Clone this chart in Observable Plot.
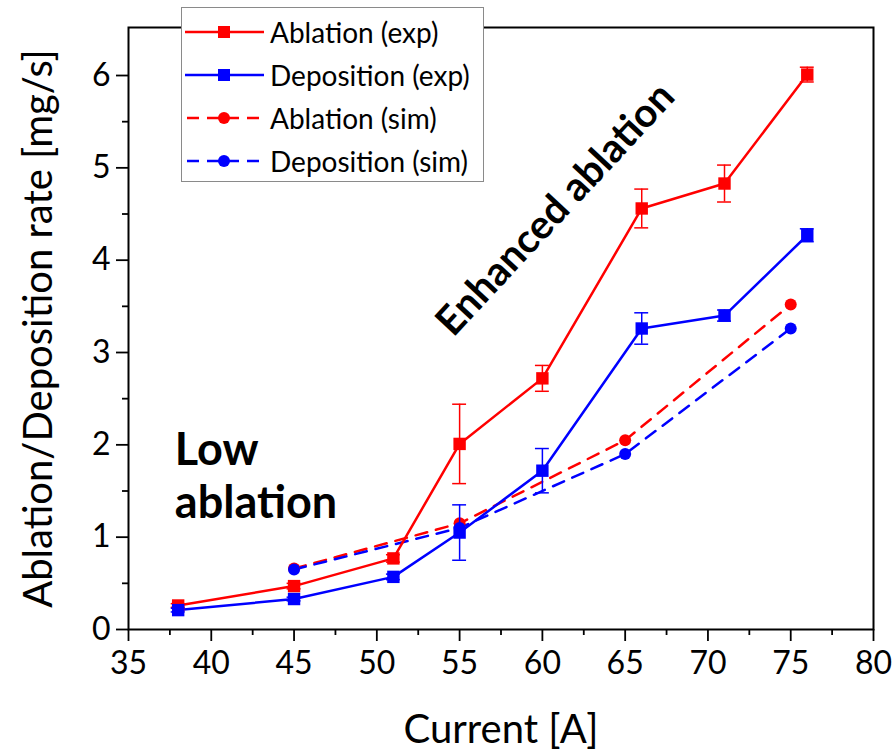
<!DOCTYPE html>
<html>
<head>
<meta charset="utf-8">
<script src="https://cdn.jsdelivr.net/npm/d3@7"></script>
<script src="https://cdn.jsdelivr.net/npm/@observablehq/plot@0.6"></script>
<style>
  body { margin: 0; background: #fff; }
  #wrap { position: relative; width: 894px; height: 755px; font-family: Lato, "Open Sans", sans-serif; }
  #legend { position: absolute; left: 181px; top: 7px; width: 301px; height: 173px; border: 1.5px solid #8a8a8a; background: #fff; }
  .row { position: absolute; left: 0; height: 40px; display: flex; align-items: center; white-space: nowrap; }
  .row span { font-size: 28px; color: #000; margin-left: 4px; }
</style>
</head>
<body>
<div id="wrap"><div id="legend"></div></div>
<script>
const RED = "#ff0000", BLUE = "#0000ff";

const expCurrent = [38, 45, 51, 55, 60, 66, 71, 76];
const ablationExp = [0.26, 0.47, 0.77, 2.01, 2.72, 4.56, 4.83, 6.01];
const ablationExpErr = [0.02, 0.03, 0.04, 0.43, 0.14, 0.21, 0.20, 0.08];
const depositionExp = [0.21, 0.33, 0.57, 1.05, 1.72, 3.26, 3.40, 4.27];
const depositionExpErr = [0.02, 0.02, 0.03, 0.30, 0.24, 0.17, 0.06, 0.07];

const simCurrent = [45, 55, 65, 75];
const ablationSim = [0.66, 1.15, 2.05, 3.52];
const depositionSim = [0.65, 1.10, 1.90, 3.26];

const xTicks = [35, 40, 45, 50, 55, 60, 65, 70, 75, 80];
const xMinor = [37.5, 42.5, 47.5, 52.5, 57.5, 62.5, 67.5, 72.5, 77.5];
const yTicks = [0, 1, 2, 3, 4, 5, 6];
const yMinor = [0.5, 1.5, 2.5, 3.5, 4.5, 5.5];

const legendItems = [
  {label: "Ablation (exp)", color: RED, dash: false, symbol: "square"},
  {label: "Deposition (exp)", color: BLUE, dash: false, symbol: "square"},
  {label: "Ablation (sim)", color: RED, dash: true, symbol: "circle"},
  {label: "Deposition (sim)", color: BLUE, dash: true, symbol: "circle"}
];

const lowLabels = [
  {x: 37.8, y: 1.94, text: "Low"},
  {x: 37.8, y: 1.36, text: "ablation"}
];
const enhancedLabel = [{x: 60.8, y: 4.55, text: "Enhanced ablation"}];

const mk = (xs, ys, es) => xs.map((x, i) => ({x, y: ys[i], e: es ? es[i] : 0}));
const aExp = mk(expCurrent, ablationExp, ablationExpErr);
const dExp = mk(expCurrent, depositionExp, depositionExpErr);
const aSim = mk(simCurrent, ablationSim);
const dSim = mk(simCurrent, depositionSim);
const CAP = 0.42;

function errMarks(data, color) {
  return [
    Plot.ruleX(data, {x: "x", y1: d => d.y - d.e, y2: d => d.y + d.e, stroke: color, strokeWidth: 1.5}),
    Plot.ruleY(data, {y: d => d.y + d.e, x1: d => d.x - CAP, x2: d => d.x + CAP, stroke: color, strokeWidth: 1.5}),
    Plot.ruleY(data, {y: d => d.y - d.e, x1: d => d.x - CAP, x2: d => d.x + CAP, stroke: color, strokeWidth: 1.5})
  ];
}

const chart = Plot.plot({
  width: 894,
  height: 755,
  marginLeft: 128,
  marginRight: 21,
  marginTop: 27,
  marginBottom: 126,
  style: {fontFamily: "Lato, 'Open Sans', sans-serif", color: "#000", background: "#fff", overflow: "visible"},
  x: {domain: [35, 80]},
  y: {domain: [0, 6.52]},
  marks: [
    Plot.frame({stroke: "#000", strokeWidth: 2}),
    Plot.axisX({ticks: xMinor, tickSize: 6, text: null, strokeWidth: 1.8, label: null}),
    Plot.axisX({ticks: xTicks, tickSize: 12, tickPadding: 10, fontSize: 32, strokeWidth: 1.8, label: null, tickFormat: d3.format("d")}),
    Plot.axisY({ticks: yMinor, tickSize: 6, text: null, strokeWidth: 1.8, label: null}),
    Plot.axisY({ticks: yTicks, tickSize: 12, tickPadding: 6, fontSize: 32, strokeWidth: 1.8, label: null, tickFormat: d3.format("d")}),
    Plot.text(["Current [A]"], {frameAnchor: "bottom", dy: 101, lineAnchor: "middle", fontSize: 40, fill: "#000"}),
    Plot.text(["Ablation/Deposition rate [mg/s]"], {frameAnchor: "left", dx: -89, rotate: -90, textAnchor: "middle", lineAnchor: "middle", fontSize: 40, fill: "#000"}),
    Plot.line(aSim, {x: "x", y: "y", stroke: RED, strokeWidth: 2.5, strokeDasharray: "12,9"}),
    Plot.line(dSim, {x: "x", y: "y", stroke: BLUE, strokeWidth: 2.5, strokeDasharray: "12,9"}),
    Plot.dot(aSim, {x: "x", y: "y", r: 6, fill: RED, stroke: "none"}),
    Plot.dot(dSim, {x: "x", y: "y", r: 6, fill: BLUE, stroke: "none"}),
    ...errMarks(aExp, RED),
    ...errMarks(dExp, BLUE),
    Plot.line(aExp, {x: "x", y: "y", stroke: RED, strokeWidth: 2.5}),
    Plot.line(dExp, {x: "x", y: "y", stroke: BLUE, strokeWidth: 2.5}),
    Plot.dot(aExp, {x: "x", y: "y", symbol: "square", r: 7, fill: RED, stroke: "none"}),
    Plot.dot(dExp, {x: "x", y: "y", symbol: "square", r: 7, fill: BLUE, stroke: "none"}),
    Plot.text(lowLabels, {x: "x", y: "y", text: "text", textAnchor: "start", fontSize: 45, fontWeight: "bold", fill: "#000"}),
    Plot.text(enhancedLabel, {x: "x", y: "y", text: "text", rotate: -47, textAnchor: "middle", fontSize: 40, fontWeight: "bold", fill: "#000"})
  ]
});

document.getElementById("wrap").prepend(chart);

const legend = document.getElementById("legend");
legendItems.forEach((it, i) => {
  const row = document.createElement("div");
  row.className = "row";
  row.style.top = (4 + i * 43) + "px";
  const dash = it.dash ? 'stroke-dasharray="12,8" stroke-dashoffset="-2"' : "";
  const marker = it.symbol === "square"
    ? `<rect x="36" y="14" width="12" height="12" fill="${it.color}"/>`
    : `<circle cx="42" cy="20" r="6" fill="${it.color}"/>`;
  row.innerHTML = `<svg width="84" height="40" style="display:block"><line x1="3" x2="82" y1="20" y2="20" stroke="${it.color}" stroke-width="2.5" ${dash}/>${marker}</svg><span>${it.label}</span>`;
  legend.appendChild(row);
});
</script>
</body>
</html>
